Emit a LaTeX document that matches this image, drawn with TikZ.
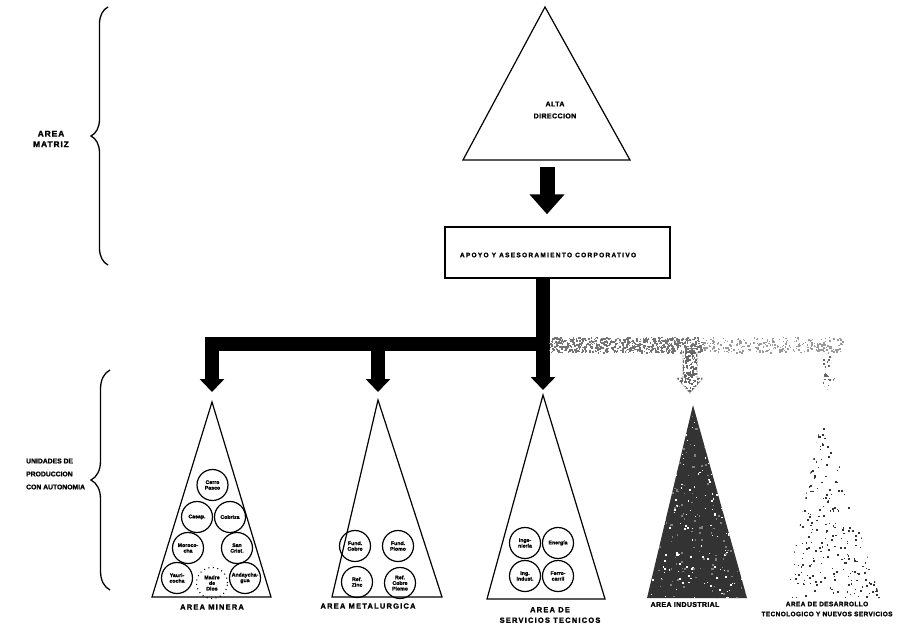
\documentclass[tikz,border=0pt]{standalone}
\usepackage{fontspec}
\setmainfont{Liberation Sans}[BoldFeatures={FakeBold=1.6}]
\usetikzlibrary{arrows.meta,decorations.pathreplacing}

% scatter #2 small squares of colour #1 over the box (#3,#4)--(#5,#6)
\newcommand{\spk}[6]{%
  \foreach \k in {1,...,#2}{%
    \pgfmathsetmacro\px{#3+rnd*(#5-#3)}%
    \pgfmathsetmacro\py{#4+rnd*(#6-#4)}%
    \pgfmathsetmacro\sz{0.8+rnd*1.4}%
    \fill[#1] (\px,\py) rectangle ++(\sz,\sz);%
  }%
}

\begin{document}
\begin{tikzpicture}[x=1pt,y=-1pt,
  lbl/.style={font=\bfseries\fontsize{7}{8}\selectfont, align=center, inner sep=0pt},
  arealbl/.style={font=\bfseries\fontsize{7.5}{10.5}\selectfont\addfontfeatures{LetterSpace=16}, align=center, inner sep=0pt},
  tri/.style={draw, line width=1.2pt, line join=miter},
  unit/.style={circle, draw, line width=1.2pt, minimum size=31pt, inner sep=0pt,
    font=\bfseries\fontsize{5.2}{5.6}\selectfont, align=center},
  flow/.style={line width=14pt, line join=miter, -{Triangle[width=24pt,length=13pt]}},
  bigflow/.style={line width=15pt, -{Triangle[width=34pt,length=20pt]}},
  bracket/.style={decorate, line width=1.3pt},
  mottle/.style={black!55},
  planned/.style={draw=black!50, line width=0.8pt, dash pattern=on 1.5pt off 1.5pt}
]
\useasboundingbox (0,0) rectangle (912,631);
\fill[white] (0,0) rectangle (912,631);
\pgfmathsetseed{41}

% ---- left-hand braces and their captions
\draw[bracket, decoration={brace, amplitude=17pt}] (108,265) -- (108,7);
\node[lbl, font=\bfseries\fontsize{8.5}{10.5}\selectfont\addfontfeatures{LetterSpace=10}] (matriz) at (51,139) {AREA\\MATRIZ};
\draw[bracket, decoration={brace, amplitude=19pt}] (110,590) -- (110,370);
\node[lbl, align=left, anchor=west, font=\bfseries\fontsize{6.8}{13}\selectfont] (unidades) at (26,474) {UNIDADES DE\\PRODUCCION\\CON AUTONOMIA};

% ---- top management
\coordinate (d1) at (545,7);
\coordinate (d2) at (463,160);
\coordinate (d3) at (630,160);
\draw[tri] (d1) -- (d2) -- (d3) -- cycle;
\node[lbl, font=\bfseries\fontsize{7}{12}\selectfont\addfontfeatures{LetterSpace=6}] (alta) at (555,110) {ALTA\\DIRECCION};
\coordinate (dbase) at (547,167);

% ---- corporate support box
\node[draw, line width=1.5pt, minimum width=225pt, minimum height=51pt, inner sep=0pt] (apoyo) at (557.5,252.5) {};
\node[lbl, font=\bfseries\fontsize{6.5}{8}\selectfont\addfontfeatures{LetterSpace=20}] (apoyotxt) at (548,255) {APOYO Y ASESORAMIENTO CORPORATIVO};
\draw[bigflow, shorten >=12pt] (dbase) -- (apoyo.north -| dbase);

% ---- the five areas (apex and base corners)
\coordinate (m1) at (212,402); \coordinate (m1l) at (152,597); \coordinate (m1r) at (271,597);
\coordinate (m2) at (378,400); \coordinate (m2l) at (332,597); \coordinate (m2r) at (442,597);
\coordinate (m3) at (543,395); \coordinate (m3l) at (487,599); \coordinate (m3r) at (605,599);
\coordinate (m4) at (693,405); \coordinate (m4l) at (647,598); \coordinate (m4r) at (747,598);
\coordinate (m5) at (823,412); \coordinate (m5l) at (785,598); \coordinate (m5r) at (880,598);
\coordinate (split) at (542,344);

% ---- distribution from the support box
\draw[flow, shorten >=5pt] (apoyo.south -| m3) -- (m3);
\draw[flow, shorten >=10pt] (split) -| (m1);
\draw[flow, shorten >=8pt] (split -| m2) -- (m2);

% mottled (planned) branches
\spk{mottle}{650}{549}{337}{702}{352}
\spk{black!40}{260}{702}{337}{842}{352}
\draw[planned] (683,352) -- (683,378) -- (677,378) -- (690,393) -- (703,378) -- (697,378) -- (697,352);
\begin{scope}
  \clip (683,350) -- (683,378) -- (677,378) -- (690,393) -- (703,378) -- (697,378) -- (697,350) -- cycle;
  \spk{black!60}{330}{676}{350}{704}{393}
\end{scope}
\begin{scope}
  \clip (823,356) -- (823,378) -- (819,378) -- (827,390) -- (835,378) -- (831,378) -- (831,356) -- cycle;
  \spk{black!60}{60}{818}{356}{836}{390}
\end{scope}

% ---- mining area
\draw[tri] (m1) -- (m1l) -- (m1r) -- cycle;
\node[unit] (cp) at (212.5,485) {Cerro\\Pasco};
\node[unit] (ca) at (197,517) {Casap.};
\node[unit] (cb) at (230,517) {Cobriza};
\node[unit] (mo) at (188,548) {Moroco-\\cha};
\node[unit] (sc) at (237,548) {San\\Crist.};
\node[unit] (ya) at (177,578) {Yauri-\\cocha};
\node[unit, draw=none] (md) at (212,583) {Madre\\de\\Dios};
\draw[line width=1.1pt, dash pattern=on 1pt off 3.5pt] (md) circle (15.5pt);
\node[unit] (an) at (245,578) {Andaycha-\\gua};
\node[arealbl] (lmin) at (212,607) {AREA MINERA};

% ---- metallurgy area
\draw[tri] (m2) -- (m2l) -- (m2r) -- cycle;
\node[unit] (fc) at (355,546) {Fund.\\Cobre};
\node[unit] (fp) at (398,546) {Fund.\\Plomo};
\node[unit] (rz) at (357,582) {Ref.\\Zinc};
\node[unit] (rc) at (400,583) {Ref.\\Cobre\\Plomo};
\node[arealbl] (lmet) at (368,606) {AREA METALURGICA};

% ---- technical services area
\draw[tri] (m3) -- (m3l) -- (m3r) -- cycle;
\node[unit] (in) at (525,543) {Inge-\\niería};
\node[unit] (en) at (558,543) {Energía};
\node[unit] (il) at (525,576) {Ing.\\Indust.};
\node[unit] (fe) at (558,576) {Ferro-\\carril};
\node[arealbl] (lser) at (550,615) {AREA DE\\SERVICIOS TECNICOS};

% ---- industrial area (dark mottled)
\fill[black!80] (m4) -- (m4l) -- (m4r) -- cycle;
\begin{scope}
  \clip (m4) -- (m4l) -- (m4r) -- cycle;
  \spk{white}{240}{645}{405}{749}{599}
  \spk{black!50}{200}{645}{405}{749}{599}
\end{scope}
\node[arealbl, font=\bfseries\fontsize{7}{9}\selectfont\addfontfeatures{LetterSpace=5}] (lind) at (685,604.5) {AREA INDUSTRIAL};

% ---- development area (sparse specks)
\begin{scope}
  \clip (m5) -- (m5l) -- (m5r) -- cycle;
  \spk{black!80}{480}{783}{410}{882}{599}
\end{scope}
\node[arealbl, font=\bfseries\fontsize{6.5}{10}\selectfont\addfontfeatures{LetterSpace=6}] (ldes) at (827,609) {AREA DE DESARROLLO\\TECNOLOGICO Y NUEVOS SERVICIOS};
\end{tikzpicture}
\end{document}
